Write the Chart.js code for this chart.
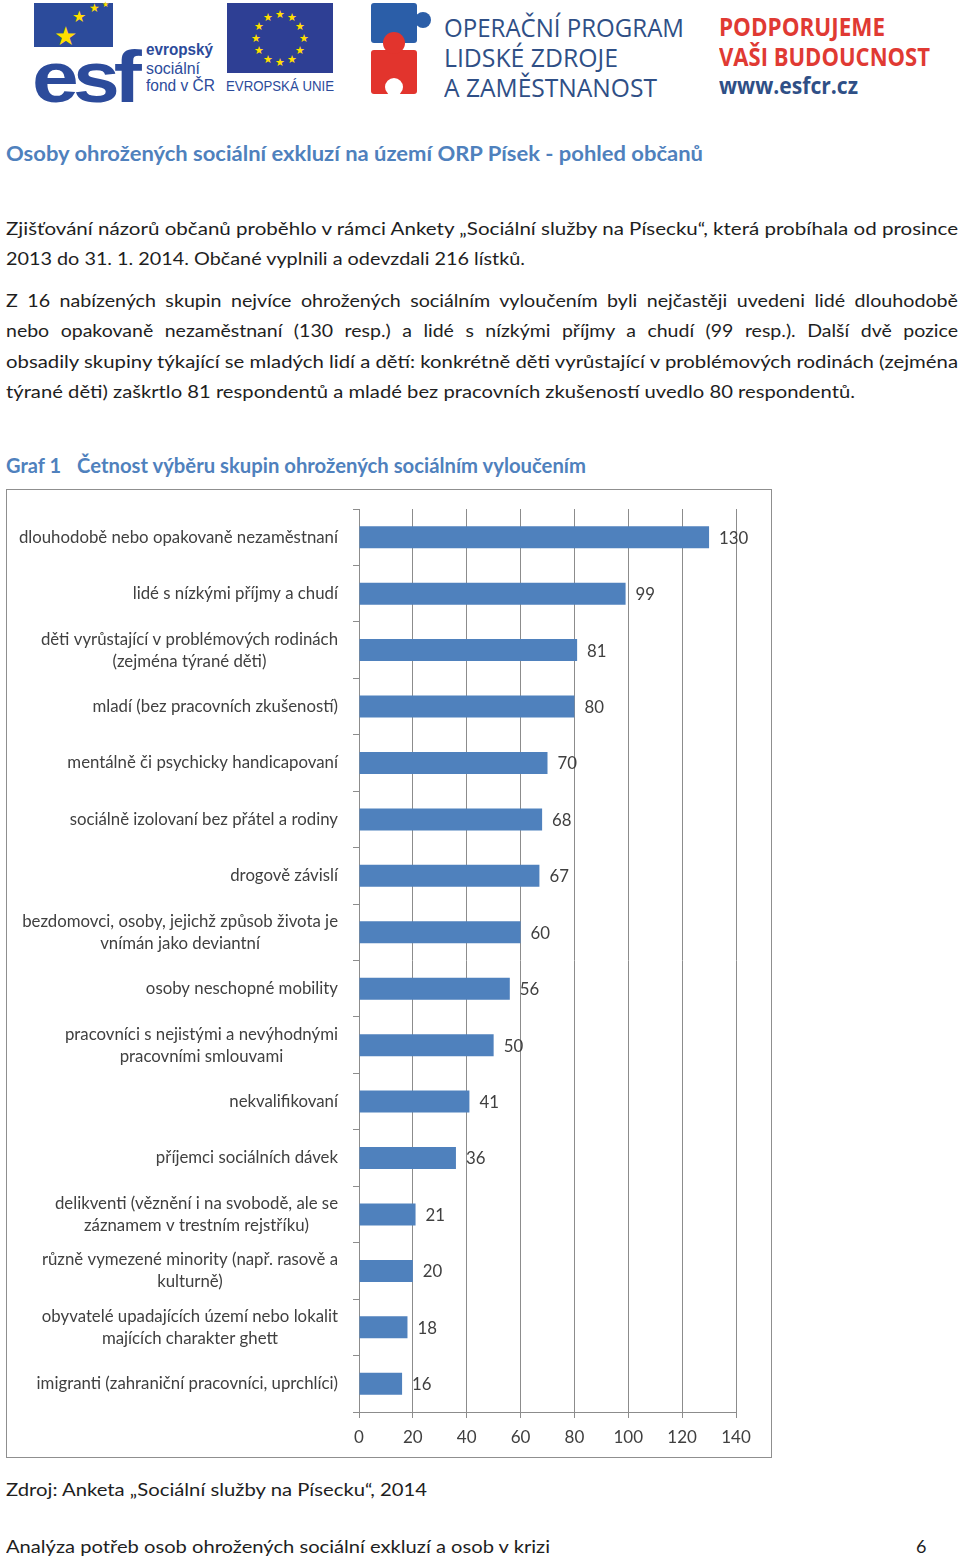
<!DOCTYPE html>
<html lang="cs">
<head>
<meta charset="utf-8">
<title>Četnost výběru skupin ohrožených sociálním vyloučením</title>
<script src="https://cdn.jsdelivr.net/npm/chart.js@4/dist/chart.umd.min.js"></script>
<style>
  body { margin: 0; width: 960px; height: 1559px; position: relative; background: #fff; font-family: Lato, "Open Sans", sans-serif; color: #1e1e1e; overflow: hidden; }
  .t { position: absolute; white-space: nowrap; line-height: 24px; font-size: 18px; transform-origin: 0 50%; }
  .blue { color: #4f81bd; font-weight: bold; font-size: 20px; }
  .logo { position: absolute; }
  .star { position: absolute; color: #ffde00; line-height: 1; }
  #frame { position: absolute; left: 6px; top: 489px; width: 764px; height: 967px; border: 1px solid #8f8f8f; }
  #chart { display: block; }
</style>
</head>
<body>

<!-- header logos -->
<div class="logo" id="esfBox" style="left:34px;top:3px;width:79px;height:44px;background:#2c4b9b;"></div>
<div class="t" data-w="104" style="left:32px;top:36px;line-height:60px;font:900 72px 'Liberation Sans',Arial,sans-serif;color:#2c4b9b;letter-spacing:-5px;">esf</div>
<div class="t" data-w="67" style="left:146px;top:41px;line-height:20px;font:bold 16px 'Liberation Sans',Arial;color:#2c4b9b;">evropský</div>
<div class="t" data-w="54" style="left:146px;top:60px;line-height:20px;font:16px 'Liberation Sans',Arial;color:#2c4b9b;">sociální</div>
<div class="t" data-w="69" style="left:146px;top:77px;line-height:20px;font:16px 'Liberation Sans',Arial;color:#2c4b9b;">fond v ČR</div>

<div class="logo" id="euFlag" style="left:227px;top:3px;width:106px;height:70px;background:#2e3f94;"></div>
<div class="t" data-w="108" style="left:226px;top:78px;line-height:18px;font:14px 'Liberation Sans',Arial;color:#2c4b9b;">EVROPSKÁ UNIE</div>

<div class="logo" style="left:371px;top:3px;width:46px;height:40px;background:#2b5ea8;border-radius:3px;"></div>
<div class="logo" style="left:415px;top:12px;width:16px;height:16px;background:#2b5ea8;border-radius:50%;"></div>
<div class="logo" style="left:371px;top:50px;width:46px;height:44px;background:#e2342d;border-radius:3px;"></div>
<div class="logo" style="left:383px;top:32px;width:22px;height:22px;background:#e2342d;border-radius:50%;"></div>
<div class="logo" style="left:385px;top:78px;width:18px;height:18px;background:#fff;border-radius:50%;"></div>

<div class="t" data-w="240" style="left:444px;top:9px;line-height:30px;font:500 26px 'Open Sans';color:#2f4f86;">OPERAČNÍ PROGRAM</div>
<div class="t" data-w="174" style="left:444px;top:39px;line-height:30px;font:500 26px 'Open Sans';color:#2f4f86;">LIDSKÉ ZDROJE</div>
<div class="t" data-w="213" style="left:444px;top:69px;line-height:30px;font:500 26px 'Open Sans';color:#2f4f86;">A ZAMĚSTNANOST</div>
<div class="t" data-w="166" style="left:719px;top:9px;line-height:30px;font:bold 25px 'Open Sans';color:#e03a33;">PODPORUJEME</div>
<div class="t" data-w="211" style="left:719px;top:39px;line-height:30px;font:bold 25px 'Open Sans';color:#e03a33;">VAŠI BUDOUCNOST</div>
<div class="t" data-w="139" style="left:719px;top:69px;line-height:30px;font:bold 23px 'Open Sans';color:#2f4f86;">www.esfcr.cz</div>

<!-- text -->
<div class="t blue" data-w="697" style="left:6px;top:141px;">Osoby ohrožených sociální exkluzí na území ORP Písek - pohled občanů</div>

<div class="t" data-w="952" style="left:6px;top:216px;">Zjišťování názorů občanů proběhlo v rámci Ankety „Sociální služby na Písecku“, která probíhala od prosince</div>
<div class="t" data-w="519" style="left:6px;top:246px;">2013 do 31. 1. 2014. Občané vyplnili a odevzdali 216 lístků.</div>

<div class="t" data-w="952" style="left:6px;top:288px;word-spacing:4px;">Z 16 nabízených skupin nejvíce ohrožených sociálním vyloučením byli nejčastěji uvedeni lidé dlouhodobě</div>
<div class="t" data-w="952" style="left:6px;top:318px;word-spacing:6px;">nebo opakovaně nezaměstnaní (130 resp.) a lidé s nízkými příjmy a chudí (99 resp.). Další dvě pozice</div>
<div class="t" data-w="952" style="left:6px;top:349px;">obsadily skupiny týkající se mladých lidí a dětí: konkrétně děti vyrůstající v problémových rodinách (zejména</div>
<div class="t" data-w="849" style="left:6px;top:379px;">týrané děti) zaškrtlo 81 respondentů a mladé bez pracovních zkušeností uvedlo 80 respondentů.</div>

<div class="t blue" data-w="55" style="left:6px;top:453px;">Graf 1</div>
<div class="t blue" data-w="509" style="left:77px;top:453px;">Četnost výběru skupin ohrožených sociálním vyloučením</div>

<div id="frame"><canvas id="chart" width="764" height="967"></canvas></div>

<div class="t" data-w="421" style="left:6px;top:1477px;">Zdroj: Anketa „Sociální služby na Písecku“, 2014</div>
<div class="t" data-w="544" style="left:6px;top:1534px;">Analýza potřeb osob ohrožených sociální exkluzí a osob v krizi</div>
<div class="t" style="left:916px;top:1534px;">6</div>

<script>
// chart data
const categories = [
  "dlouhodobě nebo opakovaně nezaměstnaní",
  "lidé s nízkými příjmy a chudí",
  ["děti vyrůstající v problémových rodinách", "(zejména týrané děti)"],
  "mladí (bez pracovních zkušeností)",
  "mentálně či psychicky handicapovaní",
  "sociálně izolovaní bez přátel a rodiny",
  "drogově závislí",
  ["bezdomovci, osoby, jejichž způsob života je", "vnímán jako deviantní"],
  "osoby neschopné mobility",
  ["pracovníci s nejistými a nevýhodnými", "pracovními smlouvami"],
  "nekvalifikovaní",
  "příjemci sociálních dávek",
  ["delikventi (věznění i na svobodě, ale se", "záznamem v trestním rejstříku)"],
  ["různě vymezené minority (např. rasově a", "kulturně)"],
  ["obyvatelé upadajících území nebo lokalit", "majících charakter ghett"],
  "imigranti (zahraniční pracovníci, uprchlíci)"
];
const counts = [130, 99, 81, 80, 70, 68, 67, 60, 56, 50, 41, 36, 21, 20, 18, 16];
const axisMin = 0;
const axisMax = 140;
const axisStep = 20;

const barColor = "#4f81bd";
const gridColor = "#8c8c8c";
const textColor = "#404040";
const chartFont = "16.8px Lato";

// stars on the logos (decoration)
function addStars() {
  for (let i = 0; i < 12; i++) {
    const a = (i / 12) * Math.PI * 2;
    const s = document.createElement("span");
    s.className = "star";
    s.textContent = "★";
    s.style.fontSize = "11px";
    s.style.left = (227 + 53 + Math.sin(a) * 24 - 5.5) + "px";
    s.style.top = (3 + 35 - Math.cos(a) * 24 - 6) + "px";
    document.body.appendChild(s);
  }
  [[54, 22, 26], [72, 8, 16], [89, 2, 12], [102, 0, 8]].forEach(([x, y, size]) => {
    const s = document.createElement("span");
    s.className = "star";
    s.textContent = "★";
    s.style.fontSize = size + "px";
    s.style.left = x + "px";
    s.style.top = y + "px";
    document.body.appendChild(s);
  });
}

// squeeze/stretch each text line to the width it has on the page
function fitText() {
  document.querySelectorAll("[data-w]").forEach((el) => {
    const w = el.getBoundingClientRect().width;
    el.style.transform = `scaleX(${el.dataset.w / w})`;
  });
}

// category labels: right aligned block, lines centered inside it
const categoryLabels = {
  id: "categoryLabels",
  afterDraw(chart) {
    const { ctx } = chart;
    const yScale = chart.scales.y;
    const right = yScale.right - 21;
    ctx.save();
    ctx.font = chartFont;
    ctx.fillStyle = textColor;
    ctx.textAlign = "center";
    ctx.textBaseline = "middle";
    categories.forEach((label, i) => {
      const lines = Array.isArray(label) ? label : [label];
      const y = yScale.getPixelForValue(i);
      const widest = Math.max(...lines.map((l) => ctx.measureText(l).width));
      const cx = right - widest / 2;
      lines.forEach((line, j) => {
        ctx.fillText(line, cx, y + (j - (lines.length - 1) / 2) * 22);
      });
    });
    ctx.restore();
  },
};

// value at the end of each bar
const valueLabels = {
  id: "valueLabels",
  afterDatasetsDraw(chart) {
    const { ctx } = chart;
    const meta = chart.getDatasetMeta(0);
    ctx.save();
    ctx.font = chartFont;
    ctx.fillStyle = textColor;
    ctx.textAlign = "left";
    ctx.textBaseline = "middle";
    meta.data.forEach((bar, i) => {
      ctx.fillText(String(counts[i]), bar.x + 10, bar.y + 1);
    });
    ctx.restore();
  },
};

function drawChart() {
  const ctx = document.getElementById("chart").getContext("2d");
  new Chart(ctx, {
    type: "bar",
    data: {
      labels: categories,
      datasets: [
        {
          data: counts,
          backgroundColor: barColor,
          barPercentage: 0.39,
          categoryPercentage: 1,
        },
      ],
    },
    options: {
      indexAxis: "y",
      responsive: false,
      animation: false,
      layout: { padding: { top: 19, right: 35, left: 0, bottom: 0 } },
      plugins: {
        legend: { display: false },
        tooltip: { enabled: false },
      },
      scales: {
        x: {
          min: axisMin,
          max: axisMax,
          ticks: {
            stepSize: axisStep,
            color: textColor,
            font: { family: "Lato", size: 17 },
            padding: 9,
          },
          grid: { color: gridColor, tickLength: 6 },
          border: { color: gridColor },
          afterFit(scale) {
            scale.height = 45;
          },
        },
        y: {
          ticks: { display: false },
          grid: { offset: true, drawOnChartArea: false, tickLength: 6, color: gridColor },
          border: { color: gridColor },
          afterFit(scale) {
            scale.width = 352;
          },
        },
      },
    },
    plugins: [categoryLabels, valueLabels],
  });
}

addStars();
document.fonts.load(chartFont).then(() => {
  fitText();
  drawChart();
});
</script>
</body>
</html>
